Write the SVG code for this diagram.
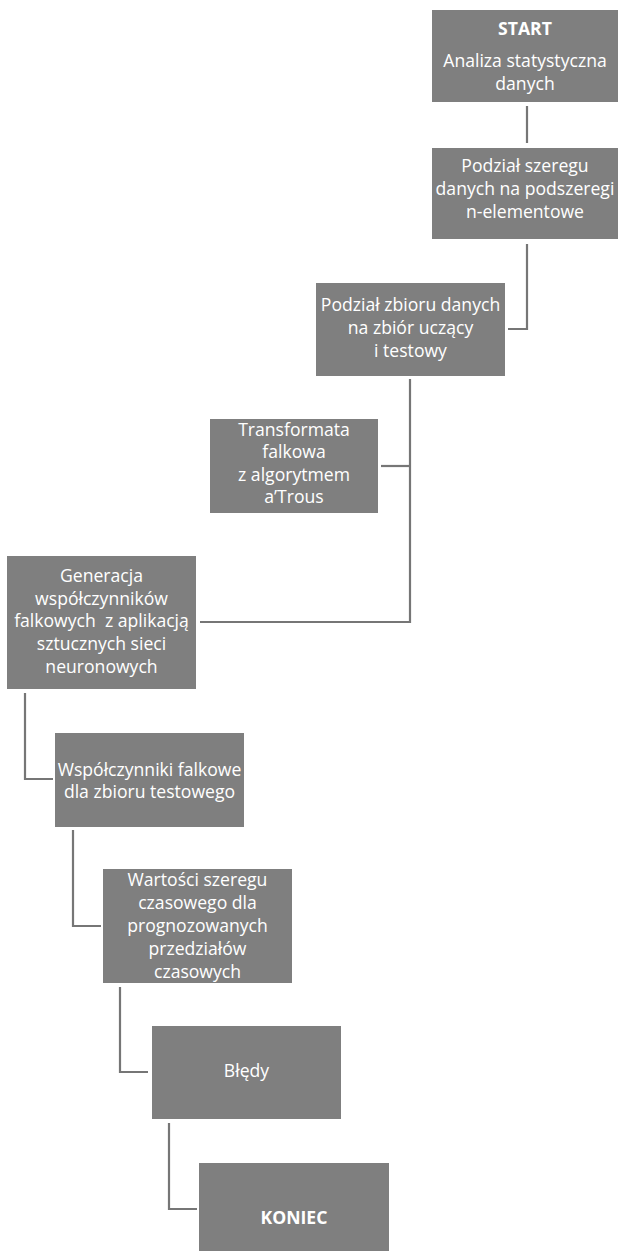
<svg xmlns="http://www.w3.org/2000/svg" width="618" height="1251" viewBox="0 0 618 1251">
<style>
.box{fill:#7f7f7f;}
.t{font-family:"Open Sans","Liberation Sans",sans-serif;font-size:17.6px;fill:#ffffff;text-anchor:middle;white-space:pre;}
.b{font-weight:bold;}
.c{fill:none;stroke:#767676;stroke-width:2.2;}
</style>
<rect width="618" height="1251" fill="#ffffff"/>
<g id="connectors">
<path class="c" d="M527,106 V143"/>
<path class="c" d="M527,244 V329 H508"/>
<path class="c" d="M410,379 V622 H200"/>
<path class="c" d="M410,466 H381"/>
<path class="c" d="M25,693 V779 H53"/>
<path class="c" d="M73,830 V926 H101"/>
<path class="c" d="M120,987 V1072 H148"/>
<path class="c" d="M169,1123 V1209 H197"/>
</g>
<g id="start">
<rect class="box" x="432" y="10" width="186" height="92"/>
<text class="t b" x="525" y="35">START</text>
<text class="t" x="525" y="67">Analiza statystyczna</text>
<text class="t" x="525" y="90">danych</text>
</g>
<g id="podzial-szeregu">
<rect class="box" x="432" y="148" width="186" height="91"/>
<text class="t" x="525" y="172">Podział szeregu</text>
<text class="t" x="525" y="195">danych na podszeregi</text>
<text class="t" x="525" y="218">n-elementowe</text>
</g>
<g id="podzial-zbioru">
<rect class="box" x="316" y="283" width="189" height="93"/>
<text class="t" x="410.5" y="311">Podział zbioru danych</text>
<text class="t" x="410.5" y="334">na zbiór uczący</text>
<text class="t" x="410.5" y="357">i testowy</text>
</g>
<g id="transformata">
<rect class="box" x="210" y="419" width="168" height="94"/>
<text class="t" x="294" y="436">Transformata</text>
<text class="t" x="294" y="458">falkowa</text>
<text class="t" x="294" y="481">z algorytmem</text>
<text class="t" x="294" y="503">a’Trous</text>
</g>
<g id="generacja">
<rect class="box" x="7" y="556" width="189" height="133"/>
<text class="t" x="101.5" y="582">Generacja</text>
<text class="t" x="101.5" y="605">współczynników</text>
<text class="t" x="101.5" y="627">falkowych  z aplikacją</text>
<text class="t" x="101.5" y="650">sztucznych sieci</text>
<text class="t" x="101.5" y="673">neuronowych</text>
</g>
<g id="wspolczynniki">
<rect class="box" x="55" y="733" width="189" height="94"/>
<text class="t" x="149.5" y="776">Współczynniki falkowe</text>
<text class="t" x="149.5" y="798">dla zbioru testowego</text>
</g>
<g id="wartosci">
<rect class="box" x="103" y="869" width="189" height="114"/>
<text class="t" x="197.5" y="886">Wartości szeregu</text>
<text class="t" x="197.5" y="909">czasowego dla</text>
<text class="t" x="197.5" y="932">prognozowanych</text>
<text class="t" x="197.5" y="955">przedziałów</text>
<text class="t" x="197.5" y="978">czasowych</text>
</g>
<g id="bledy">
<rect class="box" x="152" y="1026" width="189" height="93"/>
<text class="t" x="246.5" y="1077">Błędy</text>
</g>
<g id="koniec">
<rect class="box" x="199" y="1163" width="190" height="93"/>
<text class="t b" x="294" y="1224">KONIEC</text>
</g>
</svg>
